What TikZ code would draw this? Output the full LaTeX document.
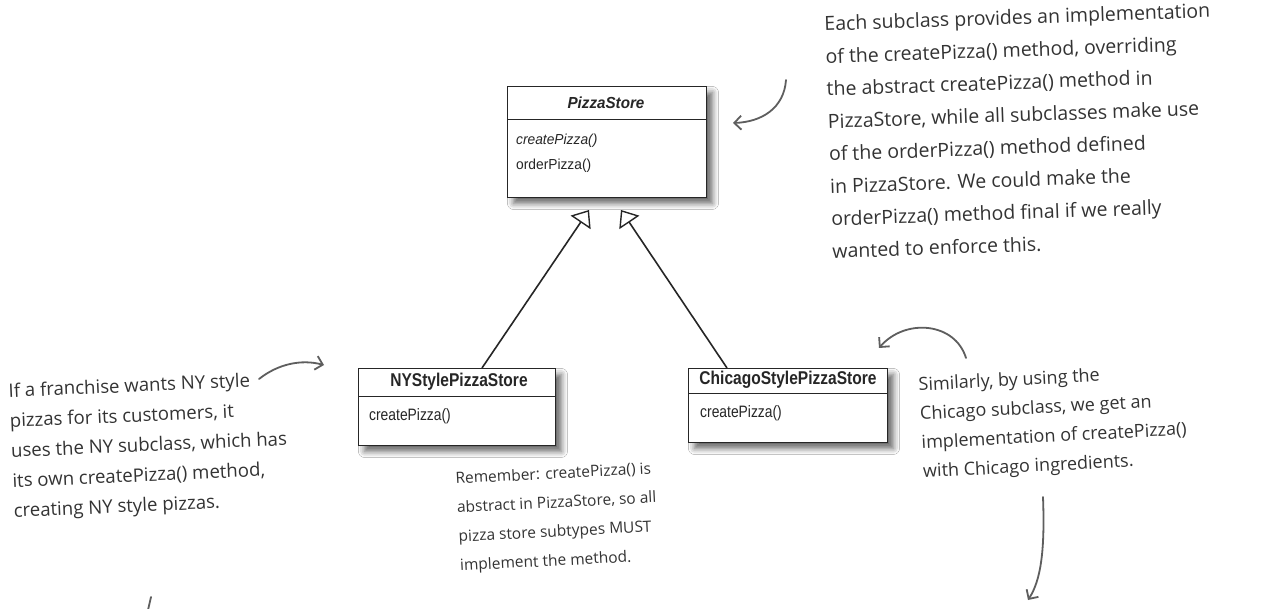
\documentclass[tikz,border=0pt]{standalone}
\usepackage{fontspec}
\setmainfont{Liberation Sans}
\newfontfamily\umlA[FakeStretch=0.95]{Liberation Sans}
\newfontfamily\umlB[FakeStretch=0.84]{Liberation Sans}
\newfontfamily\hand{Open Sans}
\usetikzlibrary{arrows.meta,shadows.blur}
\definecolor{ink}{HTML}{262626}
\definecolor{pen}{HTML}{5E5E5E}
\definecolor{note}{HTML}{333333}
\tikzset{
  umlbox/.style={draw=ink, line width=0.9pt, fill=white, anchor=north west, inner sep=0pt,
    blur shadow={shadow xshift=6pt, shadow yshift=-6pt, shadow blur radius=6pt, shadow opacity=60}},
  divider/.style={draw=ink, line width=0.9pt},
  titleA/.style={font=\umlA\fontsize{16}{18}\selectfont\bfseries\itshape, text=ink, inner sep=0pt},
  memberA/.style={font=\umlA\fontsize{14.5}{16}\selectfont, text=ink, anchor=west, inner sep=0pt},
  titleB/.style={font=\umlB\fontsize{18.5}{20}\selectfont\bfseries, text=ink, inner sep=0pt},
  memberB/.style={font=\umlB\fontsize{16.5}{19}\selectfont, text=ink, anchor=west, inner sep=0pt},
  inh/.style={draw=ink, line width=1.6pt, -{Triangle[open, length=15pt, width=24pt, line width=1.4pt]}},
  penarrow/.style={draw=pen, line width=1.8pt, line cap=round, -{Straight Barb[length=7pt, width=14pt, line width=1.8pt]}},
  penline/.style={draw=pen, line width=1.8pt, line cap=round},
  note/.style={font=\hand, text=note, align=left, anchor=north west, inner sep=0pt}
}
\begin{document}
\begin{tikzpicture}[x=1pt,y=-1pt]
\useasboundingbox[fill=white] (0,0) rectangle (1270,609);

% PizzaStore
\node[umlbox, minimum width=199pt, minimum height=111pt] (ps) at (507,86) {};
\draw[divider] ([yshift=-33pt]ps.north west) -- ([yshift=-33pt]ps.north east);
\node[titleA] (pst) at (606,103) {PizzaStore};
\node[memberA] (psm1) at (516,141) {\itshape createPizza()};
\node[memberA] (psm2) at (516,166) {orderPizza()};

% NYStylePizzaStore
\node[umlbox, minimum width=197pt, minimum height=77pt] (ny) at (358,368) {};
\draw[divider] ([yshift=-28pt]ny.north west) -- ([yshift=-28pt]ny.north east);
\node[titleB] (nyt) at (459,382) {NYStylePizzaStore};
\node[memberB] (nym) at (369,416) {createPizza()};

% ChicagoStylePizzaStore
\node[umlbox, minimum width=199pt, minimum height=74pt] (ch) at (688,368) {};
\draw[divider] ([yshift=-25pt]ch.north west) -- ([yshift=-25pt]ch.north east);
\node[titleB] (cht) at (788,380) {ChicagoStylePizzaStore};
\node[memberB] (chm) at (700,413) {createPizza()};

% inheritance
\coordinate (nyTop) at (482,368);
\coordinate (chTop) at (727,368);
\coordinate (tipL) at (589,210);
\coordinate (tipR) at (621,210);
\draw[inh] (nyTop) -- (tipL);
\draw[inh] (chTop) -- (tipR);

% hand-drawn arrows
\coordinate (a1s) at (786,80);  \coordinate (a1e) at (733,123);
\draw[penarrow] (a1s) .. controls (784,108) and (762,122) .. (a1e);
\coordinate (a2s) at (259,379); \coordinate (a2e) at (324,365);
\draw[penarrow] (a2s) .. controls (278,364) and (301,359) .. (a2e);
\coordinate (a3s) at (966,358); \coordinate (a3e) at (879,348);
\draw[penarrow] (a3s) .. controls (955,322) and (905,318) .. (a3e);
\coordinate (a4s) at (1043,497); \coordinate (a4e) at (1028,600);
\draw[penarrow] (a4s) .. controls (1045,550) and (1041,580) .. (a4e);
\coordinate (a5s) at (151,597); \coordinate (a5e) at (148,610);
\draw[penline] (a5s) -- (a5e);

% notes
\node[note, font=\hand\fontsize{19.5}{32.5}\selectfont, rotate=2] (n1) at (824,16) {Each subclass provides an implementation\\of the createPizza() method, overriding\\the abstract createPizza() method in\\PizzaStore, while all subclasses make use\\of the orderPizza() method defined\\in PizzaStore. We could make the\\orderPizza() method final if we really\\wanted to enforce this.};
\node[note, font=\hand\fontsize{18.6}{30}\selectfont, rotate=2.5] (n2) at (8,383) {If a franchise wants NY style\\pizzas for its customers, it\\uses the NY subclass, which has\\its own createPizza() method,\\creating NY style pizzas.};
\node[note, font=\hand\fontsize{15.5}{29}\selectfont, rotate=3] (n3) at (455,472) {Remember: createPizza() is\\abstract in PizzaStore, so all\\pizza store subtypes MUST\\implement the method.};
\node[note, font=\hand\fontsize{18}{29}\selectfont, rotate=3] (n4) at (918,377) {Similarly, by using the\\Chicago subclass, we get an\\implementation of createPizza()\\with Chicago ingredients.};
\end{tikzpicture}
\end{document}
